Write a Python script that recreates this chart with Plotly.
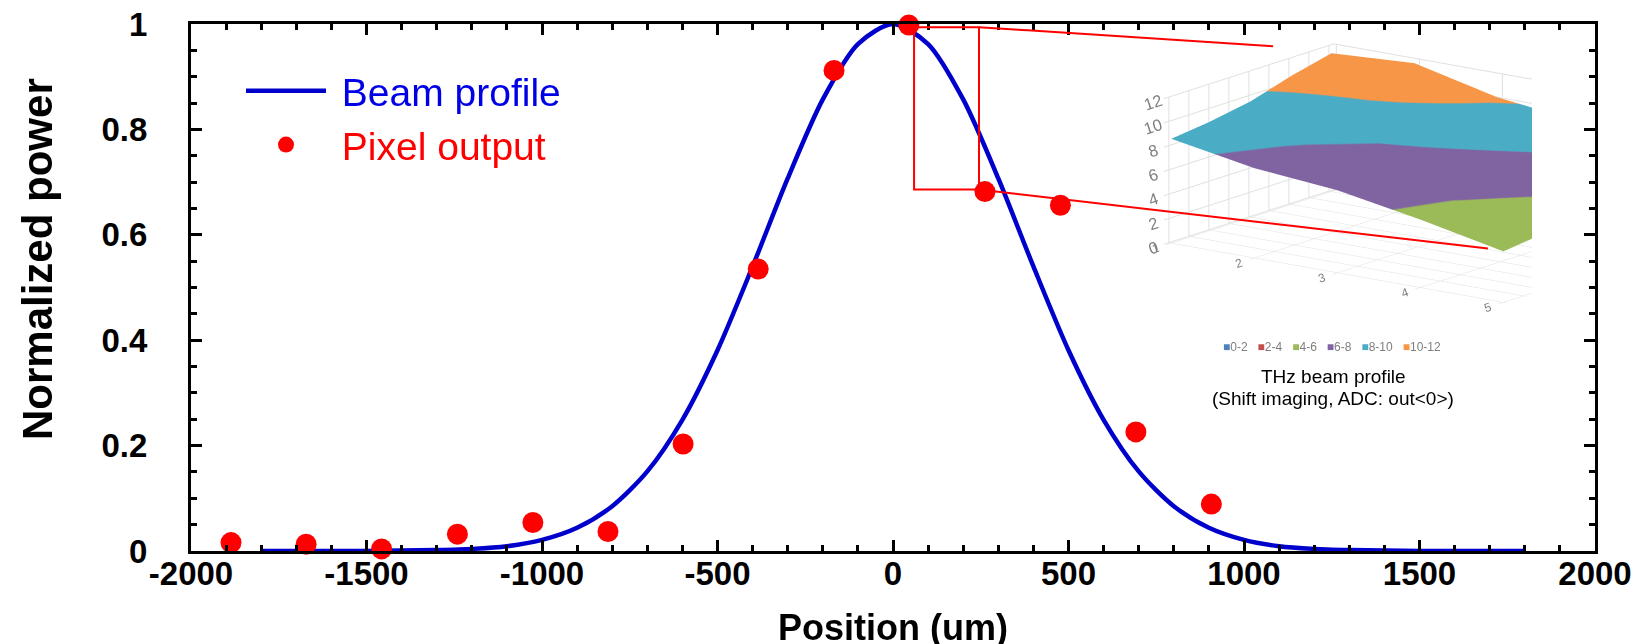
import plotly.graph_objects as go

# ---------------- data ----------------
BEAM_X = list(range(-1800, 1801, 100))
BEAM_Y = [0.000, 0.000, 0.000, 0.000, 0.001, 0.002, 0.004, 0.009, 0.021, 0.044,
          0.085, 0.151, 0.249, 0.381, 0.540, 0.707, 0.857, 0.962, 1.000,
          0.962, 0.857, 0.707, 0.540, 0.381, 0.249, 0.151, 0.085, 0.044, 0.021,
          0.009, 0.004, 0.002, 0.001, 0.000, 0.000, 0.000, 0.000]

PIX_X = [-1886, -1672, -1457, -1241, -1026, -812, -598, -384, -168, 45, 262, 477, 692, 907]
PIX_Y = [0.016, 0.013, 0.004, 0.032, 0.054, 0.037, 0.203, 0.535, 0.912, 0.998,
         0.682, 0.656, 0.226, 0.089]

X_TICKS = [-2000, -1500, -1000, -500, 0, 500, 1000, 1500, 2000]
X_TICK_TEXT = ["-2000", "-1500", "-1000", "-500", "0", "500", "1000", "1500", "2000"]
Y_TICKS = [0, 0.2, 0.4, 0.6, 0.8, 1]
Y_TICK_TEXT = ["0", "0.2", "0.4", "0.6", "0.8", "1"]

# zoom window (um, normalized power) and connector end points
ZOOM_X = [60, 245]
ZOOM_Y = [0.686, 0.994]
CONN_TOP_END = [1083, 0.958]
CONN_BOT_END = [1695, 0.574]

# inset: THz beam profile surface (ADC output levels)
INSET_COLS = [1, 2, 3, 4, 5]
INSET_ROWS = [1, 2, 3, 4, 5]
INSET_Z = [
    [8.6, 7.4, 6.8, 5.6, 4.2],
    [9.0, 7.8, 7.0, 5.9, 4.6],
    [9.6, 8.4, 7.6, 6.6, 5.4],
    [10.6, 10.3, 9.2, 8.0, 7.0],
    [11.4, 11.8, 10.2, 9.4, 9.0],
]
BANDS = ["0-2", "2-4", "4-6", "6-8", "8-10", "10-12"]
BAND_COLORS = ["#4F81BD", "#C0504D", "#9BBB59", "#8064A2", "#4BACC6", "#F79646"]

FONT = "Liberation Sans, Arial, sans-serif"

# page body adds an 8 px margin at top/left
OFF = 8
W, H = 1650 - OFF, 644 - OFF
# plot area in screen pixels
SL, SR, ST, SB = 191, 1595, 24, 551
L, T = SL - OFF, ST - OFF
R, B = W - (SR - OFF), H - (SB - OFF)
PW, PH = SR - SL, SB - ST


def px(xs):
    return (xs - SL) / PW


def py(ys):
    return (SB - ys) / PH


fig = go.Figure()

fig.add_trace(go.Scatter(
    x=BEAM_X, y=BEAM_Y, mode="lines", name='<span style="color:#0000E6">&nbsp;Beam profile</span>',
    line=dict(color="#0000CC", width=4.5, shape="spline", smoothing=0.8),
))
fig.add_trace(go.Scatter(
    x=PIX_X, y=PIX_Y, mode="markers", name='<span style="color:#FF0000">&nbsp;Pixel output</span>',
    marker=dict(color="#FF0000", size=21, line=dict(width=0)), cliponaxis=False,
))

# inset surface
cs = []
n = len(BAND_COLORS)
for i, c in enumerate(BAND_COLORS):
    cs.append([i / n, c])
    cs.append([(i + 1) / n, c])
fig.add_trace(go.Surface(
    x=INSET_COLS, y=INSET_ROWS, z=INSET_Z, colorscale=cs, cmin=0, cmax=12,
    showscale=False, showlegend=False, opacity=1,
    lighting=dict(ambient=0.8, diffuse=0.3, specular=0.0, roughness=1, fresnel=0),
    contours=dict(x=dict(highlight=False), y=dict(highlight=False), z=dict(highlight=False)),
    hoverinfo="skip", scene="scene",
))

axis_common = dict(
    showline=True, linewidth=3, linecolor="black", mirror="ticks",
    ticks="inside", ticklen=11, tickwidth=2.5, tickcolor="black",
    showgrid=False, zeroline=False, automargin=False, ticklabeloverflow="allow",
    tickfont=dict(family=FONT, size=33, color="black", weight="bold"),
)

CAM_DIR = (1.16, -1.56, 0.48)
CAM_CENTER = (-0.59, -0.44, -0.04)

fig.update_layout(
    width=W, height=H,
    margin=dict(l=L, r=R, t=T, b=B, autoexpand=False),
    paper_bgcolor="white", plot_bgcolor="white",
    xaxis=dict(range=[-2000, 2000], tickmode="array", tickvals=X_TICKS, ticktext=X_TICK_TEXT,
               minor=dict(dtick=100, tick0=0, ticks="inside", ticklen=6, tickwidth=2.5,
                          tickcolor="black", showgrid=False),
               ticklabelstandoff=-9, **axis_common),
    yaxis=dict(range=[0, 1], tickmode="array", tickvals=Y_TICKS, ticktext=Y_TICK_TEXT,
               minor=dict(dtick=0.05, tick0=0, ticks="inside", ticklen=6, tickwidth=2.5,
                          tickcolor="black", showgrid=False),
               ticklabelstandoff=34, **axis_common),
    showlegend=True,
    legend=dict(x=px(241), y=py(59), xanchor="left", yanchor="top",
                font=dict(family=FONT, size=39), bgcolor="rgba(0,0,0,0)",
                itemwidth=80, tracegroupgap=0),
    scene=dict(
        domain=dict(x=[px(1082), px(1532)], y=[py(330), py(30)]),
        aspectmode="manual", aspectratio=dict(x=2.8, y=1.9, z=1.0),
        camera=dict(
            center=dict(x=CAM_CENTER[0], y=CAM_CENTER[1], z=CAM_CENTER[2]),
            eye=dict(x=CAM_CENTER[0] + CAM_DIR[0], y=CAM_CENTER[1] + CAM_DIR[1],
                     z=CAM_CENTER[2] + CAM_DIR[2]),
            projection=dict(type="orthographic")),
        bgcolor="rgba(0,0,0,0)",
        xaxis=dict(title=dict(text=""), range=[0.97, 5.03], tickvals=INSET_COLS, showbackground=False,
                   gridcolor="#E0E0E0", showspikes=False, zeroline=False,
                   tickfont=dict(family=FONT, size=12, color="#7F7F7F")),
        yaxis=dict(title=dict(text=""), showticklabels=False, showbackground=False,
                   gridcolor="#E0E0E0", showspikes=False, zeroline=False),
        zaxis=dict(title=dict(text=""), range=[0, 12], tickvals=[0, 2, 4, 6, 8, 10, 12],
                   showbackground=False, gridcolor="#E0E0E0", showspikes=False, zeroline=False,
                   tickfont=dict(family=FONT, size=14, color="#7F7F7F")),
    ),
)

# axis titles
fig.add_annotation(text="<b>Position (um)</b>", xref="paper", yref="paper", x=px(893), y=py(627),
                   xanchor="center", yanchor="middle",
                   showarrow=False, font=dict(family=FONT, size=36, color="black"))
fig.add_annotation(text="<b>Normalized power</b>", xref="paper", yref="paper", x=px(37), y=py(259),
                   xanchor="center", yanchor="middle",
                   textangle=-90, showarrow=False, font=dict(family=FONT, size=42, color="black"))

# zoom rectangle and connectors
fig.add_shape(type="rect", xref="x", yref="y", x0=ZOOM_X[0], x1=ZOOM_X[1], y0=ZOOM_Y[0], y1=ZOOM_Y[1],
              line=dict(color="#FF0000", width=2))
fig.add_shape(type="line", xref="x", yref="y", x0=ZOOM_X[1], y0=ZOOM_Y[1],
              x1=CONN_TOP_END[0], y1=CONN_TOP_END[1], line=dict(color="#FF0000", width=2))
fig.add_shape(type="line", xref="x", yref="y", x0=ZOOM_X[1], y0=ZOOM_Y[0],
              x1=CONN_BOT_END[0], y1=CONN_BOT_END[1], line=dict(color="#FF0000", width=2))

# inset legend and caption
leg = "&nbsp;&nbsp;&nbsp;".join(
    f'<span style="color:{c}">■</span>{b}' for b, c in zip(BANDS, BAND_COLORS))
fig.add_annotation(text=leg, xref="paper", yref="paper", x=px(1332), y=py(347),
                   xanchor="center", yanchor="middle",
                   showarrow=False, font=dict(family=FONT, size=12, color="#7F7F7F"))
fig.add_annotation(text="THz beam profile", xref="paper", yref="paper",
                   x=px(1333), y=py(376), xanchor="center", yanchor="middle",
                   showarrow=False, font=dict(family=FONT, size=19, color="black"))
fig.add_annotation(text="(Shift imaging, ADC: out&lt;0&gt;)", xref="paper", yref="paper",
                   x=px(1333), y=py(398), xanchor="center", yanchor="middle",
                   showarrow=False, font=dict(family=FONT, size=19, color="black"))

fig.write_html("out.html", config={"displayModeBar": False})
